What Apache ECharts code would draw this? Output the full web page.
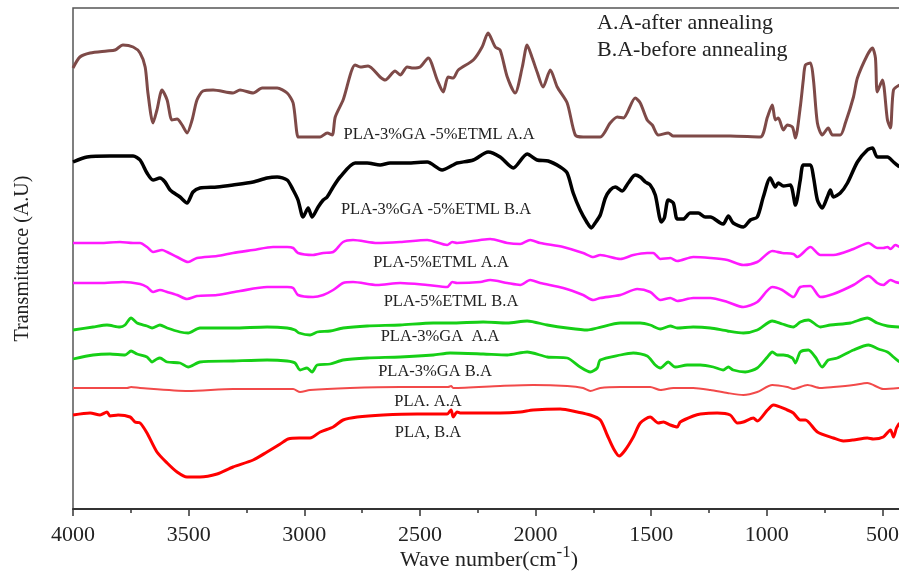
<!DOCTYPE html>
<html>
<head>
<meta charset="utf-8">
<script src="https://cdn.jsdelivr.net/npm/echarts@6/dist/echarts.min.js"></script>
<style>
html, body { margin: 0; padding: 0; background: #fff; }
#chart { width: 899px; height: 572px; }
</style>
</head>
<body>
<div id="chart"></div>
<script>
// FTIR spectra: [wavenumber (cm-1), offset transmittance (a.u.)]
const seriesNames = [
  'PLA-3%GA -5%ETML A.A', 'PLA-3%GA -5%ETML B.A',
  'PLA-5%ETML A.A', 'PLA-5%ETML B.A',
  'PLA-3%GA  A.A', 'PLA-3%GA B.A',
  'PLA. A.A', 'PLA, B.A'
];

const gaEtmlAA = [[4000,441],[3970,452],[3926,456],[3853,458],[3818,459],[3784,464],[3740,462],[3710,456],[3688,442],[3676,416],[3654,386],[3637,399],[3615,419],[3593,409],[3572,389],[3550,390],[3528,384],[3507,376],[3485,389],[3464,409],[3438,418],[3394,419],[3308,416],[3278,419],[3221,416],[3182,421],[3117,421],[3074,416],[3048,406],[3027,372],[3018,372],[2931,372],[2901,376],[2879,374],[2866,392],[2832,409],[2780,444],[2758,442],[2724,443],[2672,432],[2650,429],[2607,438],[2585,434],[2555,442],[2529,441],[2499,442],[2464,451],[2425,429],[2399,417],[2378,432],[2356,431],[2334,439],[2269,449],[2231,462],[2205,476],[2174,462],[2153,459],[2122,432],[2088,416],[2057,442],[2036,464],[2014,451],[1993,437],[1967,422],[1936,439],[1906,422],[1863,406],[1828,374],[1794,372],[1720,372],[1677,386],[1646,392],[1620,391],[1569,411],[1547,406],[1517,389],[1495,384],[1469,374],[1426,376],[1404,373],[1287,373],[1158,373],[1028,372],[997,392],[976,404],[963,389],[950,391],[928,379],[911,384],[889,382],[876,371],[855,402],[842,429],[833,444],[811,446],[798,429],[781,386],[760,374],[734,381],[716,374],[682,374],[660,386],[625,412],[608,431],[565,454],[543,461],[530,451],[522,417],[500,429],[478,389],[465,381],[452,419],[426,424]];

const gaEtmlBA = [[4000,347],[3939,352],[3840,353],[3740,353],[3710,349],[3680,336],[3654,329],[3624,331],[3602,327],[3580,319],[3537,312],[3507,306],[3481,317],[3451,321],[3377,322],[3308,324],[3221,327],[3161,331],[3117,332],[3074,329],[3048,319],[3027,309],[3005,292],[2983,301],[2966,292],[2940,302],[2918,309],[2901,312],[2875,322],[2845,332],[2780,346],[2728,346],[2672,344],[2629,346],[2555,346],[2468,347],[2404,339],[2356,344],[2339,346],[2269,349],[2205,357],[2153,352],[2096,341],[2036,355],[1993,349],[1945,348],[1893,342],[1863,336],[1837,316],[1807,299],[1776,286],[1759,281],[1742,286],[1720,294],[1698,311],[1677,319],[1655,322],[1625,318],[1599,326],[1569,334],[1547,332],[1525,327],[1504,324],[1482,314],[1456,287],[1443,291],[1426,309],[1404,306],[1387,290],[1361,290],[1331,296],[1296,296],[1266,292],[1244,292],[1201,286],[1188,285],[1166,293],[1145,286],[1101,282],[1071,289],[1041,292],[1015,312],[985,331],[963,322],[950,326],[928,323],[898,324],[876,304],[855,329],[842,344],[811,344],[798,332],[781,309],[760,301],[738,312],[725,319],[712,312],[682,316],[651,326],[608,347],[565,359],[543,361],[522,352],[478,352],[452,347],[426,342]];

const etmlAA = [[4000,266],[3883,266],[3797,267],[3740,266],[3710,266],[3680,262],[3654,257],[3615,259],[3593,257],[3550,252],[3502,247],[3464,251],[3377,253],[3308,256],[3221,259],[3135,262],[3074,262],[3048,261],[3027,256],[2962,254],[2918,256],[2875,257],[2832,267],[2789,269],[2685,266],[2585,267],[2468,269],[2382,264],[2360,267],[2339,266],[2239,269],[2196,270],[2122,266],[2066,265],[2023,269],[1980,266],[1880,262],[1794,256],[1750,252],[1720,254],[1633,250],[1577,254],[1517,256],[1491,256],[1460,250],[1417,251],[1387,248],[1318,252],[1244,251],[1170,249],[1101,244],[1041,247],[976,258],[933,256],[885,255],[868,252],[811,262],[768,254],[712,254],[625,260],[560,266],[522,261],[496,261],[478,262],[465,260],[444,264],[426,262]];

const etmlBA = [[4000,226],[3883,226],[3784,227],[3710,225],[3680,222],[3654,217],[3624,219],[3593,217],[3550,214],[3507,210],[3464,213],[3377,214],[3278,218],[3161,222],[3074,222],[3048,221],[3027,214],[2962,212],[2918,214],[2875,219],[2832,226],[2789,227],[2685,224],[2585,226],[2468,224],[2382,222],[2360,227],[2339,226],[2239,227],[2196,229],[2122,226],[2066,224],[2023,229],[1980,226],[1880,221],[1794,214],[1750,209],[1720,211],[1633,214],[1560,220],[1504,217],[1460,209],[1417,211],[1387,208],[1318,211],[1244,211],[1170,207],[1101,202],[1041,207],[976,222],[933,219],[885,212],[855,222],[811,223],[768,212],[712,215],[625,224],[560,233],[522,226],[496,224],[465,229],[444,227],[426,226]];

const gaAA = [[4000,179],[3913,182],[3853,184],[3797,182],[3775,184],[3749,191],[3723,186],[3680,183],[3658,181],[3624,184],[3593,181],[3537,177],[3502,176],[3451,181],[3308,181],[3161,182],[3074,181],[3040,179],[3022,176],[2975,174],[2944,177],[2888,178],[2832,181],[2728,183],[2585,184],[2442,186],[2369,186],[2226,187],[2122,186],[2036,188],[1949,184],[1863,181],[1776,179],[1733,181],[1633,186],[1547,186],[1504,184],[1460,180],[1417,183],[1387,181],[1318,182],[1244,181],[1170,178],[1101,176],[1041,179],[976,188],[933,185],[885,182],[855,187],[820,189],[768,182],[725,184],[638,186],[565,191],[522,186],[478,183],[426,182]];

const gaBA = [[4000,150],[3913,154],[3840,155],[3775,154],[3749,158],[3723,155],[3680,152],[3658,147],[3637,150],[3624,151],[3593,147],[3537,146],[3502,142],[3451,147],[3308,148],[3161,149],[3074,148],[3040,146],[3018,139],[2988,141],[2966,137],[2944,144],[2888,145],[2832,149],[2728,151],[2585,152],[2442,154],[2369,156],[2226,155],[2122,154],[2036,157],[1949,152],[1863,151],[1807,142],[1763,137],[1733,141],[1720,149],[1633,154],[1577,156],[1517,153],[1482,144],[1460,141],[1426,147],[1396,142],[1344,144],[1287,144],[1231,142],[1188,139],[1166,142],[1145,139],[1093,137],[1041,141],[997,152],[976,157],[954,154],[928,154],[889,151],[876,146],[855,157],[820,159],[790,152],[760,142],[734,149],[695,151],[625,159],[560,164],[517,160],[478,157],[452,152],[426,147]];

const plaAA = [[4000,121],[3766,121],[3749,122],[3710,121],[3502,118],[3308,120],[3048,120],[3018,117],[2975,119],[2802,121],[2585,122],[2378,122],[2365,123],[2356,121],[2153,123],[2010,124],[1863,123],[1794,121],[1763,118],[1720,121],[1633,122],[1504,122],[1460,119],[1404,121],[1318,121],[1244,119],[1170,116],[1101,114],[1041,117],[976,124],[911,122],[885,120],[824,124],[768,121],[712,122],[625,124],[565,126],[496,120],[426,121]];

const plaBA = [[4000,94],[3926,96],[3883,94],[3853,97],[3840,93],[3805,94],[3753,92],[3732,87],[3710,86],[3680,76],[3637,57],[3593,46],[3550,37],[3507,32],[3451,32],[3377,35],[3308,42],[3221,49],[3161,57],[3104,65],[3070,70],[3022,71],[2975,71],[2931,77],[2875,82],[2832,89],[2771,92],[2659,94],[2512,95],[2382,95],[2365,99],[2356,92],[2339,97],[2326,96],[2153,96],[2066,97],[2010,99],[1893,100],[1819,97],[1763,94],[1720,89],[1690,74],[1664,61],[1638,53],[1612,59],[1577,72],[1547,86],[1504,92],[1469,86],[1447,87],[1417,84],[1387,82],[1374,87],[1318,93],[1287,95],[1214,96],[1158,94],[1127,86],[1101,87],[1058,91],[1041,88],[997,99],[971,104],[911,99],[885,96],[855,89],[833,89],[781,77],[712,71],[669,68],[625,69],[565,71],[539,70],[496,72],[465,79],[452,72],[439,81],[426,86]];

const spectra = [gaEtmlAA, gaEtmlBA, etmlAA, etmlBA, gaAA, gaBA, plaAA, plaBA];
const lineColors = ['#7e4a48', '#000000', '#ff1aff', '#ff1aff', '#16cf16', '#16cf16', '#f24a4a', '#ff0000'];
const lineWidths = [3, 3.5, 2.6, 2.6, 2.8, 2.8, 2, 3];

// curve captions: [text, centre x, centre y]
const captions = [
  ['PLA-3%GA -5%ETML A.A', 439, 135],
  ['PLA-3%GA -5%ETML B.A', 436, 210],
  ['PLA-5%ETML A.A', 441, 263],
  ['PLA-5%ETML B.A', 451, 302],
  ['PLA-3%GA  A.A', 440, 337],
  ['PLA-3%GA B.A', 435, 372],
  ['PLA. A.A', 428, 402],
  ['PLA, B.A', 428, 433]
];
const legendNotes = ['A.A-after annealing', 'B.A-before annealing'];

const serif = '"Liberation Serif", "Times New Roman", serif';
const chart = echarts.init(document.getElementById('chart'), null, { renderer: 'canvas' });

const graphics = captions.map(c => ({
  type: 'text',
  style: { text: c[0], x: c[1], y: c[2], fill: '#222', fontSize: 16.5, fontFamily: serif,
           align: 'center', verticalAlign: 'middle' }
}));
graphics.push(
  { type: 'text', style: { text: legendNotes[0], x: 597, y: 23, fill: '#222', fontSize: 22,
    fontFamily: serif, align: 'left', verticalAlign: 'middle' } },
  { type: 'text', style: { text: legendNotes[1], x: 597, y: 50, fill: '#222', fontSize: 22,
    fontFamily: serif, align: 'left', verticalAlign: 'middle' } },
  { type: 'text', style: {
      text: '{a|Wave number(cm}{s|-1}{a|)}', x: 489, y: 560, align: 'center', verticalAlign: 'middle',
      rich: {
        a: { fontSize: 22, fontFamily: serif, fill: '#222', color: '#222' },
        s: { fontSize: 17, fontFamily: serif, fill: '#222', color: '#222', padding: [0, 0, 14, 0] }
      }
  } }
);

chart.setOption({
  animation: false,
  backgroundColor: '#fff',
  grid: { left: 73, top: 8, width: 925, height: 501, show: true, borderColor: '#555', borderWidth: 1.5,
          outerBoundsMode: 'none', containLabel: false },
  xAxis: {
    type: 'value', inverse: true, min: 0, max: 4000, interval: 500,
    axisLine: { show: true, onZero: false, lineStyle: { color: '#333', width: 1.8 } },
    axisTick: { show: true, inside: false, length: 7, lineStyle: { color: '#333', width: 1.5 } },
    minorTick: { show: true, splitNumber: 2, length: 4, lineStyle: { color: '#333', width: 1.5 } },
    splitLine: { show: false },
    axisLabel: { margin: 15, color: '#222', fontSize: 22, fontFamily: serif,
                 formatter: v => (v === 0 ? '' : String(v)) }
  },
  yAxis: {
    type: 'value', min: 0, max: 501,
    name: 'Transmittance (A.U)', nameLocation: 'middle', nameGap: 40, nameRotate: 90,
    nameTextStyle: { color: '#222', fontSize: 20, fontFamily: serif },
    axisLine: { show: true, lineStyle: { color: '#333', width: 1.8 } },
    axisTick: { show: false }, axisLabel: { show: false }, splitLine: { show: false }
  },
  series: spectra.map((d, i) => ({
    name: seriesNames[i], type: 'line', data: d, showSymbol: false,
    smooth: 0.25, clip: true,
    lineStyle: { color: lineColors[i], width: lineWidths[i] }
  })),
  graphic: graphics
});
</script>
</body>
</html>
